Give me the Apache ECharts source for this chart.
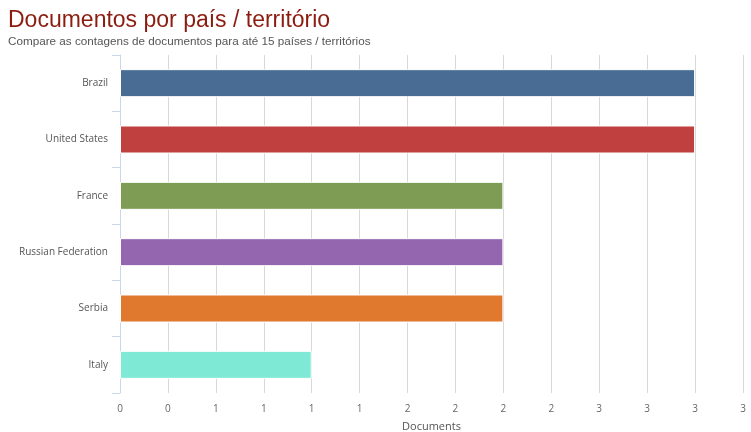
<!DOCTYPE html>
<html>
<head>
<meta charset="utf-8">
<script src="https://cdn.jsdelivr.net/npm/echarts@6/dist/echarts.min.js"></script>
<style>
  html, body { margin: 0; padding: 0; background: #fff; }
  #chart { width: 751px; height: 432px; }
</style>
</head>
<body>
<div id="chart"></div>
<script>
// Document counts per country / territory
const countries = ['Brazil', 'United States', 'France', 'Russian Federation', 'Serbia', 'Italy'];
const documents = [3, 3, 2, 2, 2, 1];
const barColors = ['#486c94', '#c0403f', '#7e9c54', '#9566b0', '#e0792e', '#7ee9d5'];

const chart = echarts.init(document.getElementById('chart'), null, { renderer: 'canvas' });

chart.setOption({
  animation: false,
  title: [
    {
      text: 'Documentos por país / território',
      left: 3, top: 4,
      textStyle: { fontFamily: 'Liberation Sans', fontSize: 23, fontWeight: 'normal', color: '#8b1d10' }
    },
    {
      text: 'Compare as contagens de documentos para até 15 países / territórios',
      left: 3, top: 31,
      textStyle: { fontFamily: 'Liberation Sans', fontSize: 11.7, fontWeight: 'normal', color: '#555555' }
    }
  ],
  grid: { left: 120, right: 8, top: 55, bottom: 39, outerBoundsMode: 'none', containLabel: false },
  xAxis: {
    type: 'value',
    min: 0, max: 3.25, interval: 0.25,
    name: 'Documents',
    nameLocation: 'middle',
    nameGap: 28,
    nameTextStyle: { fontFamily: 'Open Sans', fontSize: 11, color: '#555' },
    axisLine: { show: false },
    axisTick: { show: false },
    axisLabel: {
      fontFamily: 'Open Sans', fontSize: 10, color: '#666', margin: 11,
      formatter: v => String(Math.round(v)),
      showMaxLabel: true, showMinLabel: true
    },
    splitLine: { show: true, lineStyle: { color: '#d8d8d8', width: 1 } }
  },
  yAxis: {
    type: 'category',
    data: countries,
    inverse: true,
    axisLine: { show: true, lineStyle: { color: '#ccd6eb' } },
    axisTick: { show: true, length: 8, inside: false, lineStyle: { color: '#ccd6eb' } },
    axisLabel: { fontFamily: 'Open Sans', fontSize: 10, color: '#555', margin: 12 },
    splitLine: { show: false }
  },
  series: [{
    type: 'bar',
    data: documents.map((v, i) => ({ value: v, itemStyle: { color: barColors[i] } })),
    barWidth: 28,
    itemStyle: { borderColor: '#ffffff', borderWidth: 1 }
  }]
});
</script>
</body>
</html>
